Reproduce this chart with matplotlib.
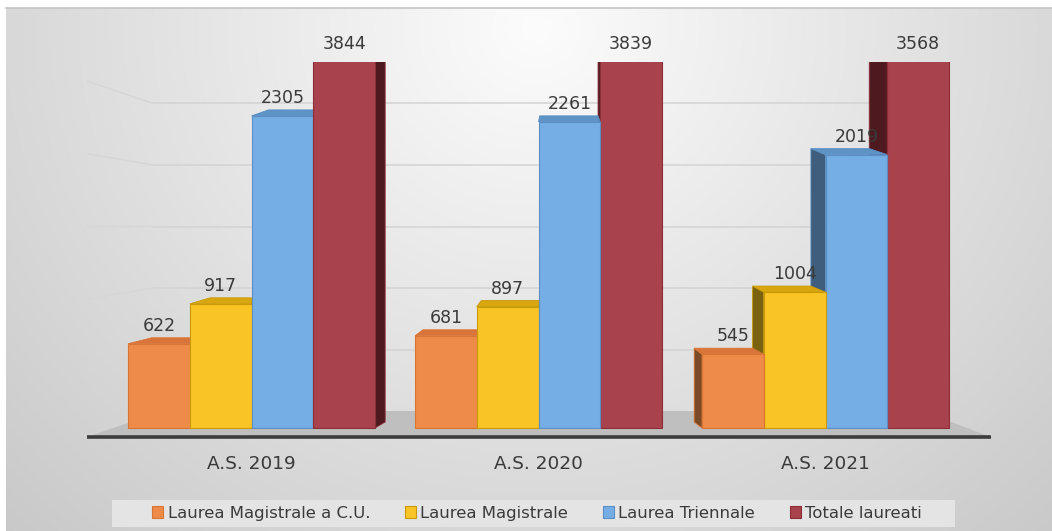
import numpy as np
import matplotlib
matplotlib.use("Agg")
import matplotlib.pyplot as plt
from matplotlib.patches import Polygon, Rectangle, Patch

# data
categories = ["A.S. 2019", "A.S. 2020", "A.S. 2021"]
series = ["Laurea Magistrale a C.U.", "Laurea Magistrale", "Laurea Triennale", "Totale laureati"]
magistrale_cu = [622, 681, 545]
magistrale = [917, 897, 1004]
triennale = [2305, 2261, 2019]
totale = [3844, 3839, 3568]
grid_values = [500, 1000, 1500, 2000, 2500]

front_colors = ["#ef8b49", "#f9c425", "#74aee4", "#a8434e"]
top_colors = ["#d9743a", "#d8a60e", "#5e93c6", "#8a2f3a"]
side_colors = ["#7b4b27", "#7a6210", "#3f5d7c", "#4e1a20"]
edge_colors = ["#d97533", "#c99a06", "#5b8fc4", "#8d2d38"]
text_color = "#3a3a3a"

# geometry (pixels of the 1052x531 picture)
W, H = 1052, 531
AX_L, AX_R, AX_T, AX_B = 87, 991, 62, 438
ZERO_PX = 428
PX_PER_UNIT = 0.1354
GROUP_PX = 287
FIRST_GROUP_PX = 251.5
BAR_PX = 61.75
VP_PX = 560
BAR_DEPTH = 0.055  # how much the back of a bar shrinks towards the vanishing point
BAR_RISE_PX = 6
FLOOR_BACK_PX = 411
WALL_DEPTH = 0.14
GRID_PX_PER_UNIT = 61.5 / 500
HORIZON_PX = 227


def to_x(px):
    return (px - FIRST_GROUP_PX) / GROUP_PX


def to_y(py):
    return (ZERO_PX - py) / PX_PER_UNIT


fig = plt.figure(figsize=(W / 100, H / 100), dpi=100)

# soft grey gradient background, white margin top/left
bg = fig.add_axes([6 / W, 0, 1 - 6 / W, 1 - 8 / H], zorder=0)
hh, ww = H - 8, W - 6
yy, xx = np.mgrid[0:hh, 0:ww]
d = np.sqrt(((xx - 530) / 560.0) ** 2 + ((yy - 20) / 520.0) ** 2)
shade = np.clip(252 - 38 * d, 200, 252) / 255.0
bg.imshow(np.dstack([shade] * 3), aspect="auto", extent=(0, 1, 0, 1))
bg.axis("off")
fig.add_artist(plt.Line2D([6 / W, 1], [1 - 8 / H] * 2, color="#c4c4c4", lw=1.2, zorder=1))

ax = fig.add_axes([AX_L / W, 1 - AX_B / H, (AX_R - AX_L) / W, (AX_B - AX_T) / H], zorder=2)
ax.set_xlim(to_x(AX_L), to_x(AX_R))
ax.set_ylim(to_y(AX_B), to_y(AX_T))
ax.patch.set_alpha(0)
for s in ax.spines.values():
    s.set_visible(False)
ax.set_yticks([])

vp = to_x(VP_PX)
dy = BAR_RISE_PX / PX_PER_UNIT


def dx(x, k=BAR_DEPTH):
    return k * (vp - x)


# floor
xl, xr = to_x(AX_L), to_x(AX_R)
y_front, y_back = to_y(437), to_y(FLOOR_BACK_PX)
floor = Polygon([(xl, y_front), (xr, y_front),
                 (xr + dx(xr, 0.16), y_back), (xl + dx(xl, 0.16), y_back)],
                closed=True, facecolor="#bfbfbf", edgecolor="none", zorder=1)
ax.add_patch(floor)
ax.plot([xl, xr], [y_front, y_front], color="#3c3c3c", lw=2.6, zorder=2,
        solid_capstyle="butt", clip_on=False)

# wall gridlines (back wall + left wall)
wall_l = xl + dx(xl, WALL_DEPTH)
wall_r = xr + dx(xr, WALL_DEPTH)
horizon = to_y(HORIZON_PX)
for v in grid_values:
    yb = y_back + v * GRID_PX_PER_UNIT / PX_PER_UNIT
    yf = horizon + 1.18 * (yb - horizon)
    ax.plot([wall_l, wall_r], [yb, yb], color="#d3d3d3", lw=1.1, zorder=0.5)
    ax.plot([to_x(88), wall_l], [yf, yb], color="#d6d6d6", lw=1.1, zorder=0.5)

# bars
values = [magistrale_cu, magistrale, triennale, totale]
bar_w = BAR_PX / GROUP_PX
offsets = (np.arange(len(series)) - 1.5) * bar_w
y_top = to_y(AX_T)

for gi in range(len(categories)):
    for si in range(len(series)):
        h = values[si][gi]
        x0 = gi + offsets[si] - bar_w / 2
        x1 = x0 + bar_w
        xc = (x0 + x1) / 2
        z = 10 - abs(xc - vp)
        if x1 <= vp:
            e = x1
        elif x0 >= vp:
            e = x0
        else:
            e = None
        if e is not None:
            ax.add_patch(Polygon([(e, 0), (e, h), (e + dx(e), h + dy), (e + dx(e), dy)],
                                 closed=True, facecolor=side_colors[si],
                                 edgecolor=edge_colors[si], lw=0.6, zorder=z))
        ax.add_patch(Polygon([(x0, h), (x1, h), (x1 + dx(x1), h + dy), (x0 + dx(x0), h + dy)],
                             closed=True, facecolor=top_colors[si],
                             edgecolor=edge_colors[si], lw=0.6, zorder=z))
        ax.add_patch(Rectangle((x0, 0), bar_w, h, facecolor=front_colors[si],
                               edgecolor=edge_colors[si], lw=0.8, zorder=z + 0.01))
        ax.annotate(f"{h}", (xc, min(h, y_top)), xytext=(0, 6.5),
                    textcoords="offset points", ha="center", va="bottom",
                    fontsize=12.5, color=text_color, annotation_clip=False, zorder=50)

ax.set_xticks(range(len(categories)), categories)
ax.tick_params(axis="x", length=0, pad=12.5, labelsize=13.3, labelcolor=text_color)

# legend
fig.add_artist(Rectangle((112 / W, 1 - 527 / H), (955 - 112) / W, 27 / H,
                         transform=fig.transFigure, facecolor="#e4e4e4",
                         edgecolor="none", zorder=1))
handles = [Patch(facecolor=front_colors[i], edgecolor=edge_colors[i], lw=0.8)
           for i in range(len(series))]
leg = fig.legend(handles, series, loc="center", bbox_to_anchor=(537 / W, 1 - 513.5 / H),
                 ncol=4, frameon=False, fontsize=11.85, labelcolor=text_color,
                 handlelength=0.7, handleheight=0.7, handletextpad=0.25,
                 columnspacing=2.1)
leg.set_zorder(3)

fig.savefig("out.png", dpi=100)
